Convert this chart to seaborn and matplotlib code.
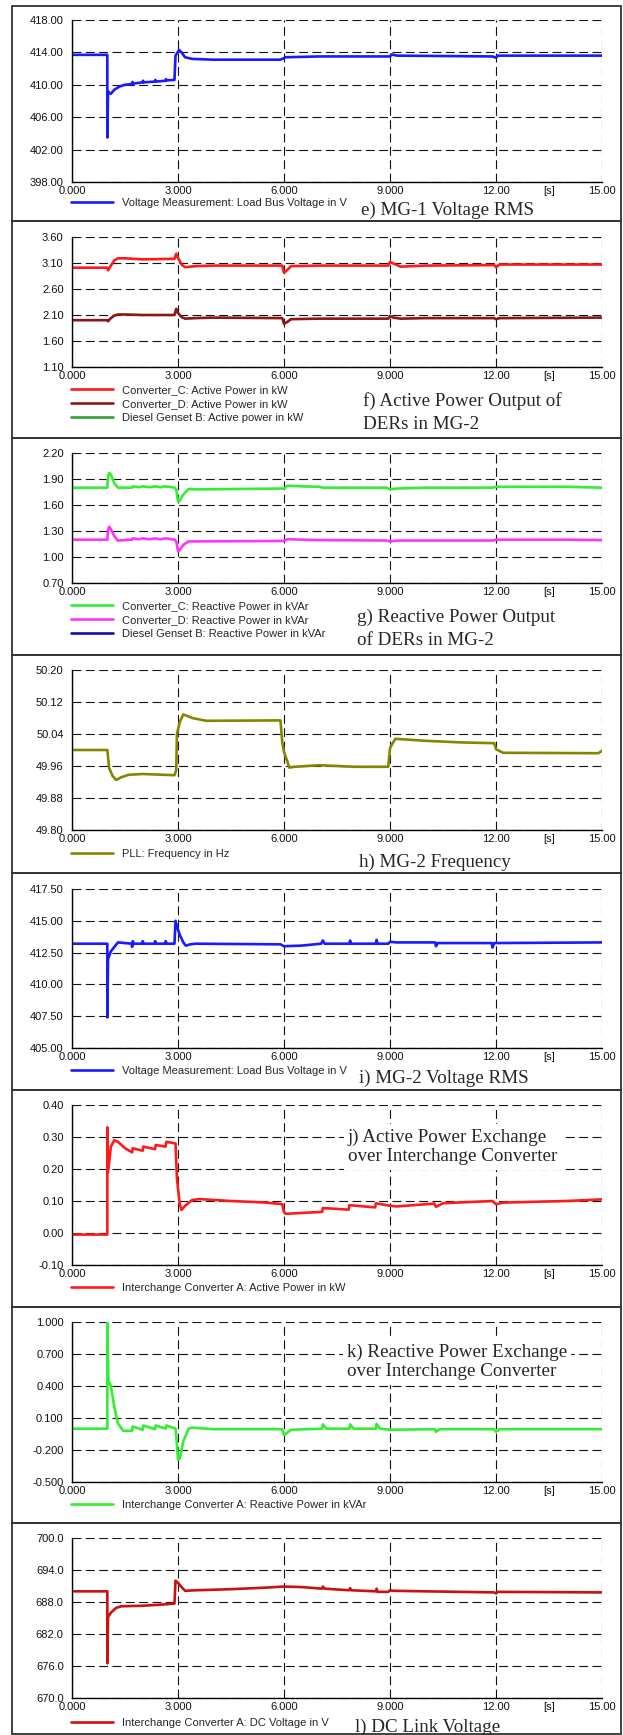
import numpy as np
import matplotlib
matplotlib.use("Agg")
import matplotlib.pyplot as plt
from matplotlib.patches import Rectangle
import seaborn as sns

# ---- data (time in s) ----
# e) MG-1 voltage RMS
t_e = [0, 1.0, 1.0, 1.02, 1.05, 1.1, 1.2, 1.35, 1.5, 1.7, 1.71, 1.73, 2.0, 2.01, 2.03, 2.35, 2.36, 2.38,
       2.65, 2.66, 2.68, 2.9, 2.93, 3.03, 3.1, 3.2, 3.4, 4.0, 5.9, 6.05, 7.0, 9.0, 9.05, 9.2, 11.9, 12.0, 12.05, 15.0]
v_e = [413.7, 413.7, 403.5, 409.2, 409.0, 408.9, 409.4, 409.8, 410.0, 410.1, 410.35, 410.15, 410.3, 410.5, 410.3,
       410.4, 410.6, 410.4, 410.5, 410.7, 410.55, 410.6, 413.6, 414.3, 414.0, 413.4, 413.2, 413.1, 413.1, 413.4,
       413.5, 413.5, 413.75, 413.6, 413.5, 413.35, 413.6, 413.6]

# f) active power of DERs in MG-2
t_f = [0, 1.0, 1.02, 1.1, 1.2, 1.3, 1.5, 2.0, 2.9, 2.95, 3.0, 3.1, 3.2, 3.5, 4.0, 5.95, 6.0, 6.1, 6.2, 7.0,
       8.95, 9.0, 9.1, 9.3, 10.0, 11.95, 12.0, 12.1, 15.0]
p_conv_c = [3.01, 3.01, 2.96, 3.05, 3.15, 3.19, 3.19, 3.17, 3.18, 3.28, 3.20, 3.07, 3.02, 3.04, 3.05, 3.05, 2.91,
            2.97, 3.04, 3.05, 3.05, 3.12, 3.09, 3.03, 3.05, 3.06, 3.02, 3.07, 3.07]
p_conv_d = [2.00, 2.00, 1.98, 2.04, 2.09, 2.11, 2.11, 2.10, 2.10, 2.22, 2.14, 2.06, 2.03, 2.04, 2.05, 2.04, 1.93,
            1.97, 2.02, 2.03, 2.03, 2.08, 2.05, 2.03, 2.04, 2.04, 2.02, 2.04, 2.05]

# g) reactive power of DERs in MG-2
t_g = [0, 1.0, 1.02, 1.05, 1.1, 1.2, 1.3, 1.7, 1.72, 1.9, 2.0, 2.2, 2.35, 2.5, 2.65, 2.9, 2.95, 3.0, 3.05,
       3.15, 3.3, 3.5, 6.0, 6.1, 6.5, 7.0, 7.1, 8.9, 9.0, 9.2, 10.0, 11.9, 12.0, 14.0, 15.0]
q_conv_c = [1.80, 1.80, 1.93, 1.97, 1.95, 1.85, 1.80, 1.80, 1.815, 1.805, 1.815, 1.805, 1.815, 1.805, 1.815,
            1.80, 1.78, 1.64, 1.65, 1.72, 1.785, 1.78, 1.79, 1.823, 1.815, 1.81, 1.80, 1.80, 1.78, 1.79, 1.80,
            1.80, 1.81, 1.81, 1.80]
q_conv_d = [1.20, 1.20, 1.31, 1.35, 1.32, 1.24, 1.19, 1.20, 1.215, 1.205, 1.215, 1.205, 1.215, 1.205, 1.215,
            1.20, 1.18, 1.07, 1.08, 1.14, 1.18, 1.18, 1.185, 1.205, 1.20, 1.195, 1.195, 1.19, 1.18, 1.19, 1.19,
            1.19, 1.20, 1.20, 1.195]

# h) MG-2 frequency
t_h = [0, 1.0, 1.05, 1.15, 1.25, 1.4, 1.6, 2.0, 2.9, 2.95, 2.97, 3.05, 3.15, 3.4, 3.8, 5.9, 5.95, 6.0, 6.1,
       6.15, 6.3, 7.0, 8.0, 8.95, 9.0, 9.05, 9.15, 10.0, 11.0, 11.95, 12.0, 12.2, 14.9, 15.0]
f_pll = [50.0, 50.0, 49.955, 49.935, 49.925, 49.932, 49.938, 49.94, 49.937, 49.95, 50.04, 50.07, 50.089, 50.08,
         50.073, 50.074, 50.02, 49.995, 49.97, 49.956, 49.958, 49.962, 49.958, 49.958, 50.005, 50.013, 50.028,
         50.023, 50.019, 50.017, 50.002, 49.993, 49.992, 49.998]

# i) MG-2 voltage RMS
t_i = [0, 1.0, 1.0, 1.02, 1.1, 1.3, 1.5, 1.7, 1.7, 1.72, 1.75, 2.0, 2.0, 2.03, 2.35, 2.35, 2.38, 2.65, 2.65,
       2.68, 2.9, 2.93, 3.0, 3.05, 3.15, 3.22, 3.35, 3.5, 5.9, 6.0, 6.5, 7.05, 7.1, 7.15, 7.85, 7.87, 7.9, 8.6,
       8.62, 8.65, 8.95, 9.0, 9.2, 10.28, 10.3, 10.35, 11.88, 11.9, 11.95, 15.0]
v_i = [413.2, 413.2, 407.4, 412.0, 412.6, 413.3, 413.25, 413.2, 412.95, 413.4, 413.2, 413.2, 413.4, 413.2,
       413.2, 413.4, 413.2, 413.2, 413.4, 413.2, 413.2, 415.0, 414.3, 413.9, 413.3, 413.05, 413.15, 413.2,
       413.15, 413.0, 413.05, 413.2, 413.45, 413.2, 413.2, 413.45, 413.2, 413.2, 413.5, 413.2, 413.2, 413.35,
       413.3, 413.3, 413.0, 413.25, 413.25, 412.9, 413.25, 413.3]

# j) active power over interchange converter
t_j = [0, 1.0, 1.0, 1.02, 1.1, 1.2, 1.3, 1.5, 1.7, 1.72, 2.0, 2.02, 2.35, 2.37, 2.65, 2.67, 2.93, 2.97, 3.05,
       3.1, 3.2, 3.4, 3.6, 4.5, 5.5, 5.95, 6.0, 6.05, 7.08, 7.1, 7.83, 7.85, 8.58, 8.6, 9.0, 9.2, 10.25, 10.3,
       10.5, 11.9, 12.0, 12.2, 14.0, 15.0]
p_ic = [-0.005, -0.005, 0.33, 0.19, 0.27, 0.29, 0.285, 0.265, 0.252, 0.265, 0.257, 0.27, 0.262, 0.275, 0.27,
        0.285, 0.28, 0.17, 0.09, 0.072, 0.085, 0.103, 0.106, 0.10, 0.095, 0.09, 0.065, 0.06, 0.066, 0.078,
        0.073, 0.087, 0.08, 0.093, 0.085, 0.083, 0.092, 0.082, 0.093, 0.10, 0.09, 0.095, 0.10, 0.105]

# k) reactive power over interchange converter
t_k = [0, 1.0, 1.0, 1.03, 1.1, 1.2, 1.3, 1.45, 1.7, 1.72, 2.0, 2.02, 2.35, 2.37, 2.65, 2.67, 2.93, 2.97, 3.0,
       3.05, 3.15, 3.3, 3.4, 4.0, 5.95, 6.0, 6.2, 7.08, 7.1, 7.2, 7.85, 7.87, 7.97, 8.6, 8.62, 8.72, 9.0, 10.28,
       10.3, 10.4, 11.95, 12.0, 12.1, 15.0]
q_ic = [0.0, 0.0, 1.0, 0.45, 0.40, 0.20, 0.05, -0.02, -0.02, 0.02, -0.01, 0.03, -0.005, 0.03, 0.0, 0.03, 0.0,
        -0.15, -0.29, -0.28, -0.12, 0.0, 0.01, -0.005, -0.005, -0.06, -0.01, 0.0, 0.04, 0.0, 0.0, 0.04, 0.0, 0.0,
        0.045, 0.0, -0.01, -0.005, -0.03, -0.005, -0.005, -0.03, -0.005, -0.005]

# l) DC link voltage
t_l = [0, 1.0, 1.0, 1.02, 1.1, 1.25, 1.4, 2.0, 2.5, 2.9, 2.93, 3.0, 3.1, 3.2, 3.5, 4.5, 5.5, 6.0, 6.5, 7.08,
       7.1, 7.15, 7.85, 7.87, 7.9, 8.6, 8.62, 8.65, 8.95, 9.0, 9.1, 10.0, 11.0, 11.95, 12.0, 12.05, 15.0]
v_dc = [690.0, 690.0, 676.5, 685.2, 686.0, 686.9, 687.2, 687.3, 687.5, 687.7, 692.0, 691.6, 690.8, 690.1, 690.2,
        690.4, 690.7, 690.9, 690.8, 690.5, 690.9, 690.5, 690.2, 690.6, 690.2, 690.0, 690.5, 689.9, 689.9, 690.2,
        690.1, 690.0, 689.9, 689.8, 689.6, 689.9, 689.8]

x_ticks = [0, 3, 6, 9, 12, 15]
x_labels = ['0.000', '3.000', '6.000', '9.000', '12.00', '15.00']

# ---- figure ----
sns.set_style('white')
plt.rcParams['font.family'] = ['Liberation Sans', 'DejaVu Sans']
plt.rcParams['axes.unicode_minus'] = False

W, H = 623, 1735
fig = plt.figure(figsize=(W / 100, H / 100), dpi=100)

RED = '#ff1a1a'
DRED = '#8e1616'
GREEN = '#33a033'
LIME = '#33ee33'
MAGENTA = '#ff33ff'
BLUE = '#1a1aff'
DBLUE = '#1010b0'
OLIVE = '#858500'
DCRED = '#cc1010'

FS = 8          # tick / legend size
TFS = 13.7      # caption size

# panel: frame top/bottom, axes top/bottom (px), y range, label format, series, legend-only entries, legend y, title
panels = [
    dict(frame=(6, 221), ax=(20, 182), ylim=(398, 418), fmt='{:.2f}',
         series=[(t_e, v_e, BLUE, 'Voltage Measurement: Load Bus Voltage in V')], extra=[],
         leg=198, title=[('e) MG-1 Voltage RMS', 361, 210)]),
    dict(frame=(221, 438), ax=(237, 367), ylim=(1.1, 3.6), fmt='{:.2f}',
         series=[(t_f, p_conv_c, RED, 'Converter_C: Active Power in kW'),
                 (t_f, p_conv_d, DRED, 'Converter_D: Active Power in kW')],
         extra=[(GREEN, 'Diesel Genset B: Active power in kW')],
         leg=385, title=[('f) Active Power Output of', 363, 401), ('DERs in MG-2', 363, 424)]),
    dict(frame=(438, 655), ax=(453, 583), ylim=(0.7, 2.2), fmt='{:.2f}',
         series=[(t_g, q_conv_c, LIME, 'Converter_C: Reactive Power in kVAr'),
                 (t_g, q_conv_d, MAGENTA, 'Converter_D: Reactive Power in kVAr')],
         extra=[(DBLUE, 'Diesel Genset B: Reactive Power in kVAr')],
         leg=601, title=[('g) Reactive Power Output', 357, 617), ('of DERs in MG-2', 357, 640)]),
    dict(frame=(655, 873), ax=(670, 830), ylim=(49.8, 50.2), fmt='{:.2f}',
         series=[(t_h, f_pll, OLIVE, 'PLL: Frequency in Hz')], extra=[],
         leg=849, title=[('h) MG-2 Frequency', 359, 862)]),
    dict(frame=(873, 1090), ax=(889, 1048), ylim=(405, 417.5), fmt='{:.2f}',
         series=[(t_i, v_i, BLUE, 'Voltage Measurement: Load Bus Voltage in V')], extra=[],
         leg=1066, title=[('i) MG-2 Voltage RMS', 359, 1078)]),
    dict(frame=(1090, 1307), ax=(1105, 1265), ylim=(-0.1, 0.4), fmt='{:.2f}',
         series=[(t_j, p_ic, RED, 'Interchange Converter A: Active Power in kW')], extra=[],
         leg=1283, box=('j) Active Power Exchange\nover Interchange Converter', 348, 1147)),
    dict(frame=(1307, 1523), ax=(1322, 1482), ylim=(-0.5, 1.0), fmt='{:.3f}',
         series=[(t_k, q_ic, LIME, 'Interchange Converter A: Reactive Power in kVAr')], extra=[],
         leg=1500, box=('k) Reactive Power Exchange\nover Interchange Converter', 347, 1362)),
    dict(frame=(1523, 1734), ax=(1538, 1698), ylim=(670, 700), fmt='{:.1f}',
         series=[(t_l, v_dc, DCRED, 'Interchange Converter A: DC Voltage in V')], extra=[],
         leg=1718, title=[('l) DC Link Voltage', 355, 1727)]),
]

serif = ['Liberation Serif', 'DejaVu Serif']

for p in panels:
    ftop, fbot = p['frame']
    fig.add_artist(Rectangle((12 / W, 1 - fbot / H), 609 / W, (fbot - ftop) / H,
                             transform=fig.transFigure, fill=False, ec='#333333', lw=1.3))

    atop, abot = p['ax']
    ax = fig.add_axes([72 / W, 1 - abot / H, 530 / W, (abot - atop) / H])

    for t, v, c, lab in p['series']:
        sns.lineplot(x=t, y=v, ax=ax, color=c, lw=1.9, label=lab, estimator=None, sort=False)
    for c, lab in p['extra']:
        ax.plot([], [], color=c, lw=1.9, label=lab)

    lo, hi = p['ylim']
    yt = np.linspace(lo, hi, 6)
    ax.set_ylim(lo, hi)
    ax.set_yticks(yt, labels=[p['fmt'].format(v) for v in yt])
    ax.set_yticks((yt[:-1] + yt[1:]) / 2, minor=True)
    ax.set_xlim(0, 15)
    ax.set_xticks(x_ticks, labels=x_labels)
    ax.set_xticks([1.5, 4.5, 7.5, 10.5, 13.5], labels=['', '', '', '', '[s]'], minor=True)
    ax.set_xlabel('')
    ax.set_ylabel('')

    ax.grid(True, which='major', color='#111111', lw=0.8, ls=(0, (8, 4)))
    ax.set_axisbelow(True)
    for s in ['top', 'right']:
        ax.spines[s].set_visible(False)
    for s in ['left', 'bottom']:
        ax.spines[s].set_color('black')
        ax.spines[s].set_linewidth(1.0)
    ax.tick_params(axis='y', which='both', pad=6)
    ax.tick_params(axis='x', which='both', pad=3)
    ax.tick_params(which='major', length=0, labelsize=FS, labelcolor='#111111')
    ax.tick_params(which='minor', length=3.5, width=0.8, direction='in', color='black',
                   labelsize=FS, labelcolor='#111111')

    h, l = ax.get_legend_handles_labels()
    ax.legend(h, l, loc='upper left', bbox_to_anchor=(71 / W, 1 - p['leg'] / H),
              bbox_transform=fig.transFigure, frameon=False, fontsize=FS,
              handlelength=3.8, handletextpad=0.8, labelspacing=0.35,
              borderpad=0, borderaxespad=0)

    for txt, x, y in p.get('title', []):
        fig.text(x / W, 1 - y / H, txt, family=serif, fontsize=TFS, va='center', ha='left')
    if 'box' in p:
        txt, x, y = p['box']
        fig.text(x / W, 1 - y / H, txt, family=serif, fontsize=TFS, va='center', ha='left',
                 linespacing=1.2, zorder=5,
                 bbox=dict(fc='white', ec='none', pad=3))

fig.savefig('out.png', dpi=100)
